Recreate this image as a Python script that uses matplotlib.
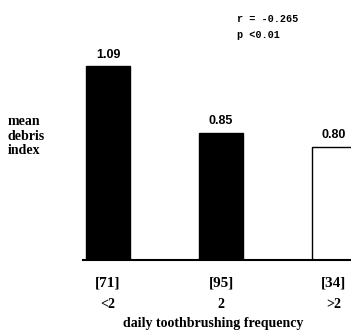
import matplotlib
matplotlib.use("Agg")
import matplotlib.pyplot as plt

categories = ["<2", "2", ">2"]
counts = ["[71]", "[95]", "[34]"]
values = [1.09, 0.85, 0.80]
value_labels = ["1.09", "0.85", "0.80"]
fills = ["black", "black", "white"]

W, H = 351, 333
fig = plt.figure(figsize=(W / 100, H / 100), dpi=100)

# axes in pixel geometry
ax_left_px, ax_right_px = 83, 362
ax_bottom_px, ax_top_px = 260, 40
ax = fig.add_axes([ax_left_px / W, (H - ax_bottom_px) / H,
                   (ax_right_px - ax_left_px) / W, (ax_bottom_px - ax_top_px) / H])

x = [0, 1, 2]
px_per_unit = 113.0
ax.set_xlim((ax_left_px - 108) / px_per_unit, (ax_right_px - 108) / px_per_unit)
y0 = 0.395
yscale = 279.0
ax.set_ylim(y0, y0 + (ax_bottom_px - ax_top_px) / yscale)

ax.bar(x, values, width=0.39, bottom=0, color=fills, edgecolor="black", linewidth=1.0)

for xi, v, lab in zip(x, values, value_labels):
    ax.annotate(lab, (xi, v), xytext=(0, 4), textcoords="offset points",
                ha="center", va="bottom", fontsize=9, fontweight="bold",
                family="Liberation Sans")

for s in ["top", "right", "left"]:
    ax.spines[s].set_visible(False)
ax.spines["bottom"].set_linewidth(1.5)
ax.set_yticks([])
ax.set_xticks([])

serif = "Liberation Serif"
for xi, c, n in zip(x, categories, counts):
    ax.annotate(n, (xi, y0), xytext=(0, -23 * 0.72), textcoords="offset points",
                ha="center", va="center", fontsize=11, fontweight="bold", family=serif,
                annotation_clip=False)
    ax.annotate(c, (xi, y0), xytext=(0, -45 * 0.72), textcoords="offset points",
                ha="center", va="center", fontsize=10, fontweight="bold", family=serif,
                annotation_clip=False)

fig.text(213 / W, 1 - 324 / H, "daily toothbrushing frequency", ha="center", va="center",
         fontsize=10, fontweight="bold", family=serif)

fig.text(8 / W, 1 - 136 / H, "mean\ndebris\nindex", ha="left", va="center",
         fontsize=10, fontweight="bold", family=serif, linespacing=1.15)

fig.text(237 / W, 1 - 19 / H, "r = -0.265", ha="left", va="center",
         fontsize=7.3, fontweight="bold", family="Liberation Mono")
fig.text(237 / W, 1 - 35 / H, "p <0.01", ha="left", va="center",
         fontsize=7.3, fontweight="bold", family="Liberation Mono")

fig.savefig("out.png", dpi=100)
